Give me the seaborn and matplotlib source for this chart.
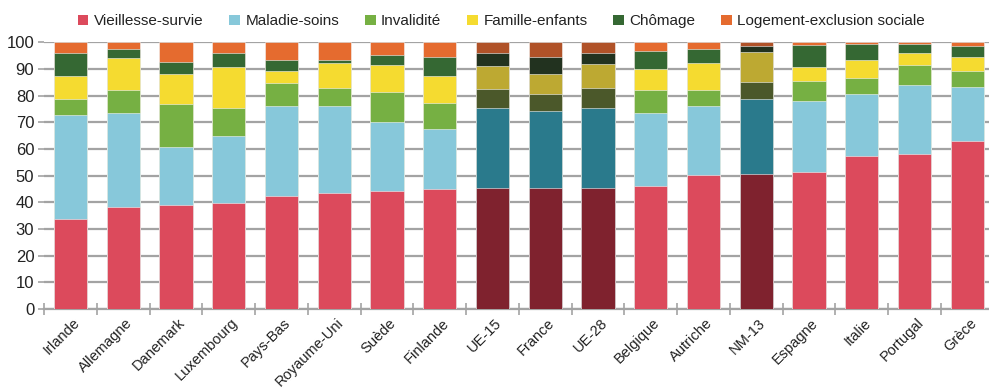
import matplotlib
matplotlib.use("Agg")
import matplotlib.pyplot as plt
from matplotlib.patches import Patch
import numpy as np
import pandas as pd
import seaborn as sns

# Share of each social-protection function in total benefits (%)
countries = ["Irlande", "Allemagne", "Danemark", "Luxembourg", "Pays-Bas",
             "Royaume-Uni", "Suède", "Finlande", "UE-15", "France", "UE-28",
             "Belgique", "Autriche", "NM-13", "Espagne", "Italie", "Portugal",
             "Grèce"]
vieillesse = [33.6, 38.4, 39.1, 39.6, 42.4, 43.6, 44.2, 44.9, 45.5, 45.5, 45.5,
              46.2, 50.2, 50.6, 51.5, 57.5, 58.2, 62.9]
maladie = [39.2, 35.1, 21.8, 25.3, 33.7, 32.5, 26.0, 22.6, 29.9, 28.7, 29.9,
           27.3, 25.9, 28.1, 26.6, 23.2, 25.9, 20.5]
invalidite = [6.0, 8.6, 16.0, 10.5, 8.6, 6.6, 11.2, 9.9, 7.1, 6.4, 7.5,
              8.6, 6.0, 6.4, 7.3, 6.0, 7.3, 6.0]
famille = [8.7, 11.9, 11.1, 15.5, 4.7, 9.4, 10.0, 10.0, 8.6, 7.5, 9.0,
           7.9, 10.0, 11.3, 5.4, 6.7, 4.6, 5.2]
chomage = [8.5, 3.3, 4.7, 5.1, 4.0, 1.3, 4.0, 7.2, 4.9, 6.4, 4.1,
           6.6, 5.2, 2.2, 8.0, 6.0, 3.4, 4.1]
logement = [4.0, 2.7, 7.3, 4.0, 6.6, 6.6, 4.6, 5.4, 4.0, 5.5, 4.0,
            3.4, 2.7, 1.4, 1.2, 0.6, 0.6, 1.3]
# Aggregates drawn in darker shades
aggregates = ["UE-15", "France", "UE-28", "NM-13"]

series_names = ["Vieillesse-survie", "Maladie-soins", "Invalidité",
                "Famille-enfants", "Chômage", "Logement-exclusion sociale"]
series_values = [vieillesse, maladie, invalidite, famille, chomage, logement]
light_colors = ["#DC4A5C", "#87C8DA", "#76B043", "#F5DB30", "#356833", "#E56B2F"]
dark_colors = ["#7F222E", "#2A7A8C", "#4B582A", "#BDA932", "#22321F", "#B05228"]

df = pd.DataFrame({name: vals for name, vals in zip(series_names, series_values)})
df.insert(0, "pays", countries)

sns.set_theme(style="white")
plt.rcParams["font.family"] = ["Liberation Sans", "DejaVu Sans"]

fig = plt.figure(figsize=(9.89, 3.88), dpi=100)
ax = fig.add_axes([0.0445, 0.2036, 0.9603, 0.6874])

# Stacked bars: draw cumulative totals from the top layer downwards
cum = df[series_names].cumsum(axis=1)
for i in range(len(series_names) - 1, -1, -1):
    palette = {c: (dark_colors[i] if c in aggregates else light_colors[i])
               for c in countries}
    sns.barplot(x=df["pays"], y=cum[series_names[i]], hue=df["pays"],
                palette=palette, order=countries, hue_order=countries,
                width=0.63, legend=False, ax=ax, saturation=1,
                edgecolor="#f4f4f4", linewidth=0.4, zorder=3)

ax.set_xlim(-0.5, len(countries) - 0.5)
ax.set_ylim(0, 100)
ax.set_yticks(np.arange(0, 101, 10))
ax.yaxis.grid(True, color="#a3a3a3", linewidth=1.6, zorder=0)
ax.xaxis.grid(False)
ax.set_axisbelow(True)
ax.set_xlabel("")
ax.set_ylabel("")

for side in ["left", "right", "top"]:
    ax.spines[side].set_visible(False)
ax.spines["bottom"].set_color("#a3a3a3")
ax.spines["bottom"].set_linewidth(1.6)

ax.tick_params(axis="y", which="major", left=True, length=4, width=1.2,
               color="#a3a3a3", labelsize=12, pad=3, labelcolor="#222222")
ax.tick_params(axis="x", which="major", length=0, labelsize=10.5, pad=2,
               labelcolor="#222222")
ax.set_xticks(np.arange(len(countries)))
ax.set_xticks(np.arange(-0.5, len(countries), 1), minor=True)
ax.tick_params(axis="x", which="minor", bottom=True, direction="inout",
               length=9, width=1.2, color="#a3a3a3")
ax.set_xticklabels(countries, rotation=45, ha="right", rotation_mode="anchor")
for lbl in ax.get_xticklabels():
    lbl.set_transform(lbl.get_transform() +
                      matplotlib.transforms.ScaledTranslation(2 / 100, -4 / 100,
                                                              fig.dpi_scale_trans))

handles = [Patch(facecolor=c, edgecolor="none") for c in light_colors]
fig.legend(handles, series_names, loc="center", bbox_to_anchor=(0.507, 0.945),
           ncol=6, frameon=False, fontsize=11, handlelength=0.7,
           handleheight=0.7, handletextpad=0.35, columnspacing=1.7,
           labelcolor="#222222")

fig.savefig("out.png", dpi=100)
